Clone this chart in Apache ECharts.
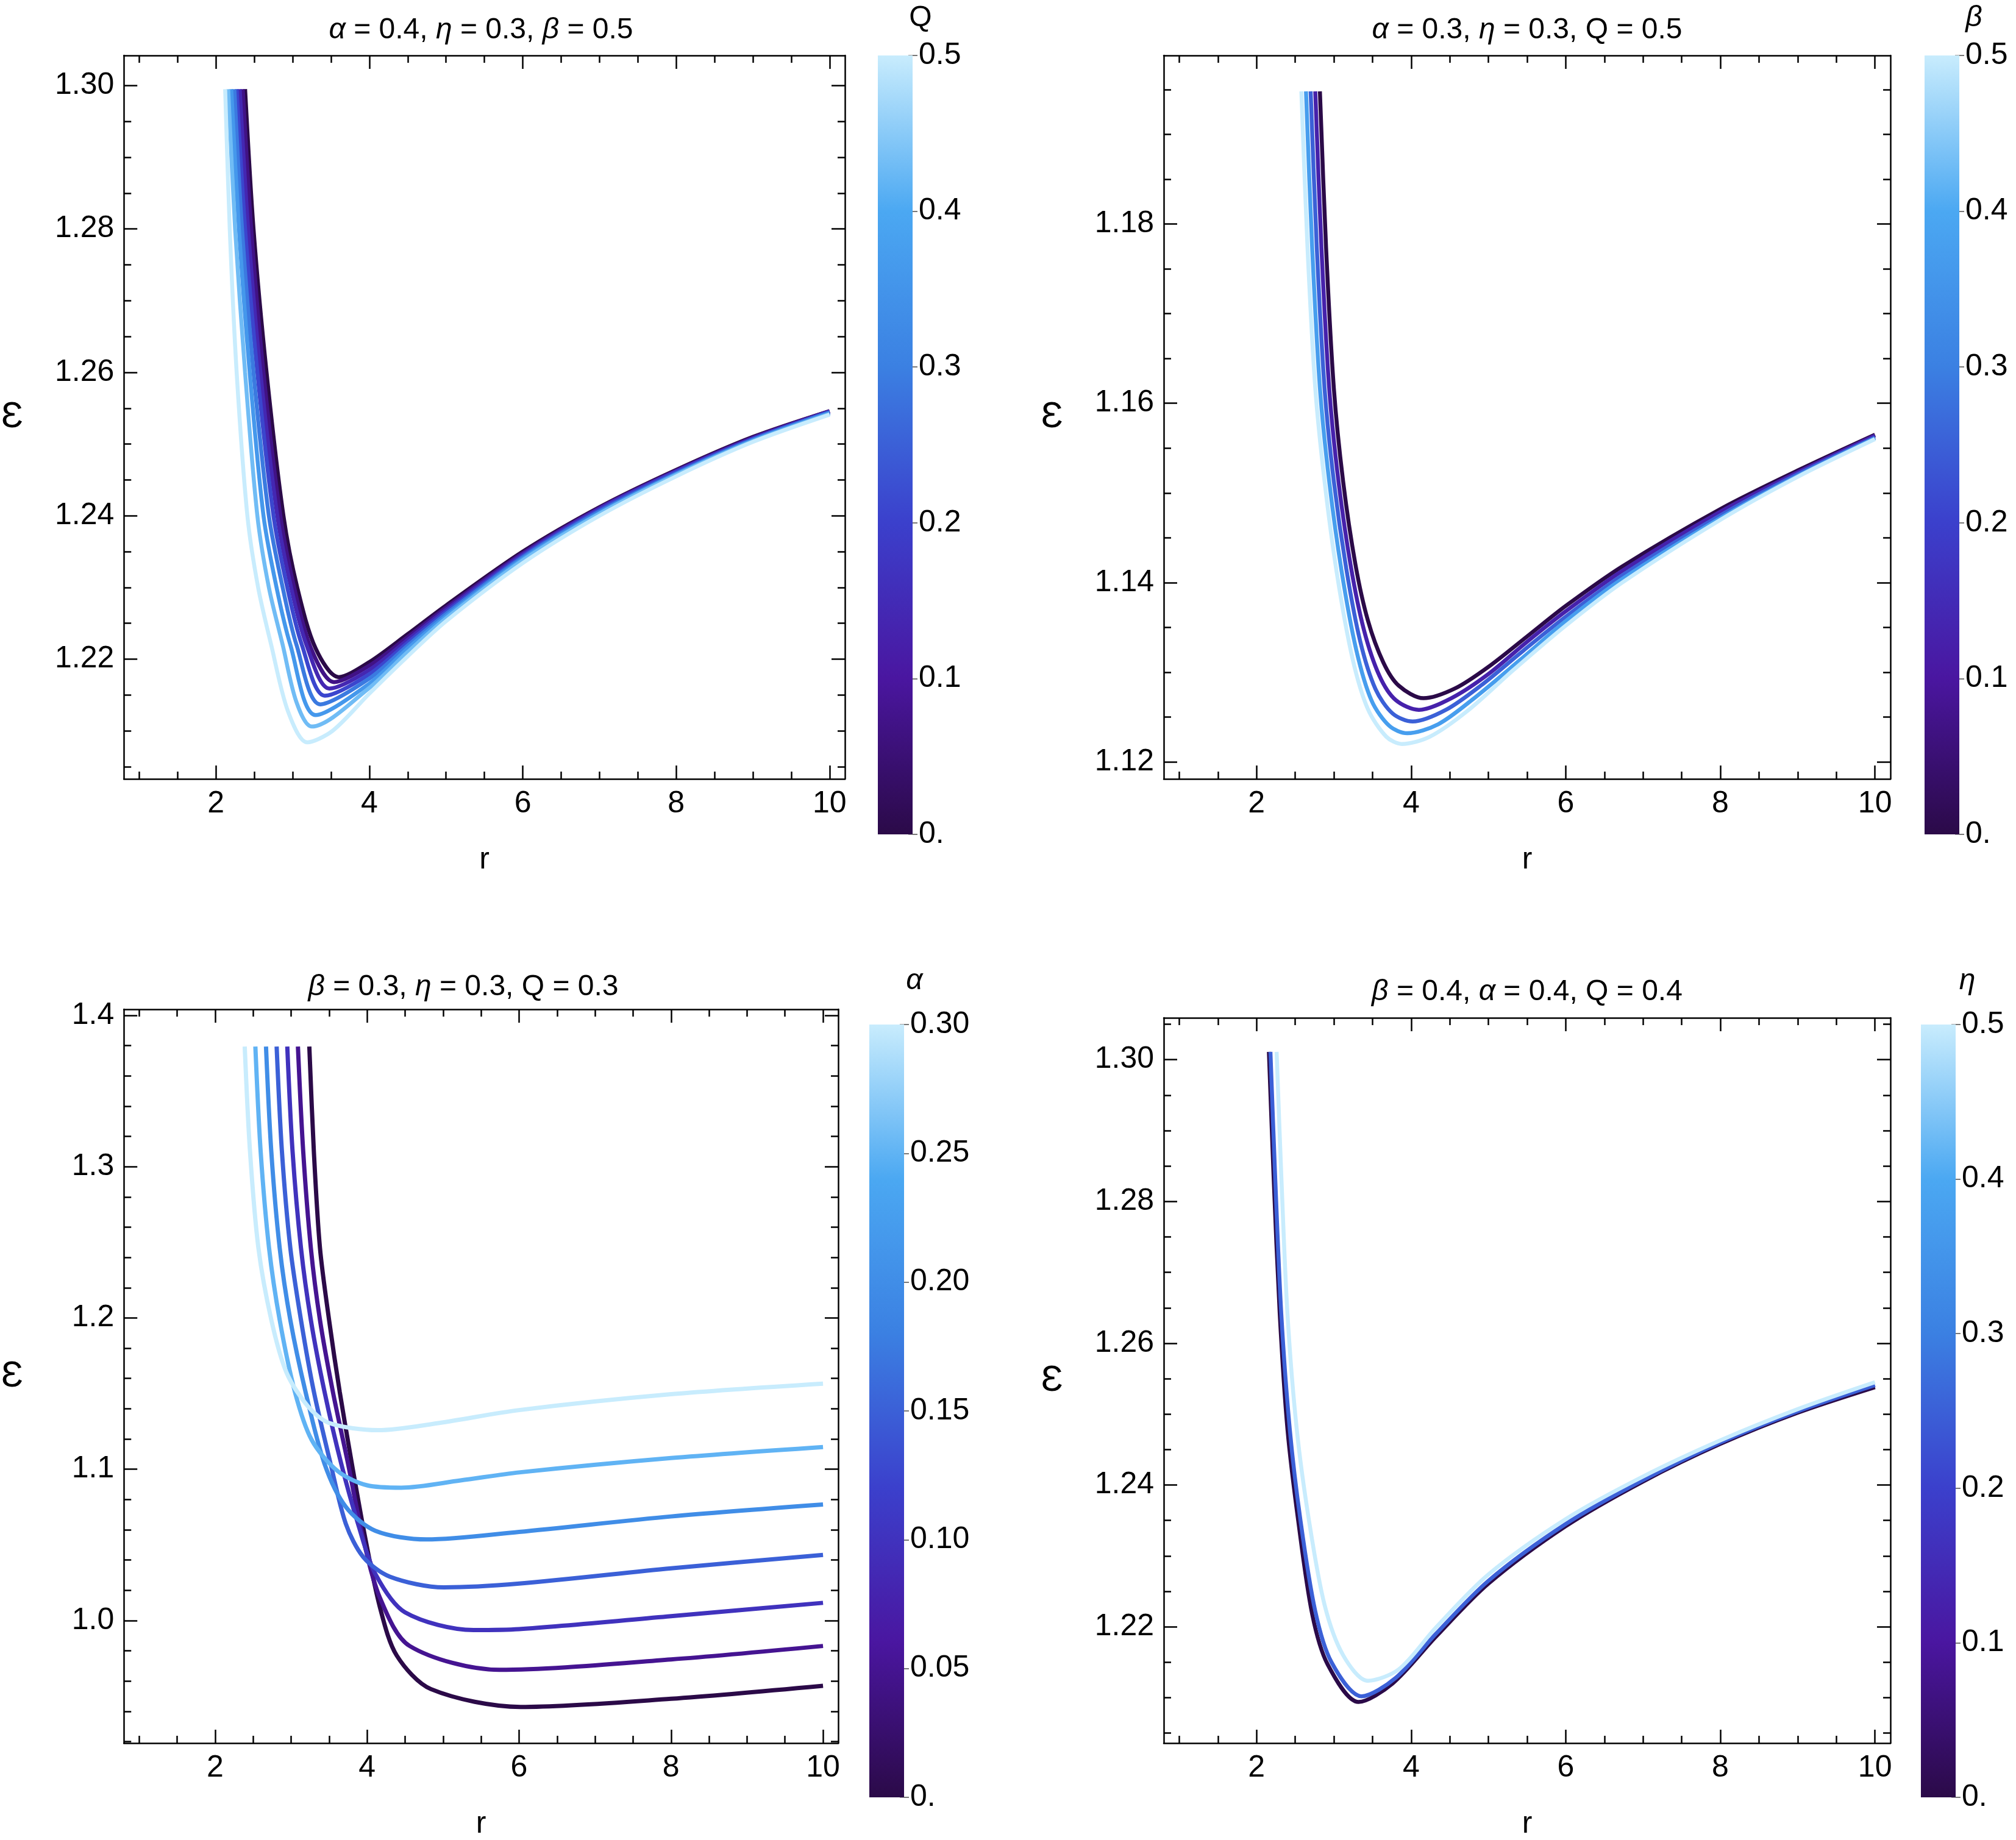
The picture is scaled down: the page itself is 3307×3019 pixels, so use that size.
<!DOCTYPE html>
<html>
<head>
<meta charset="utf-8">
<script src="https://cdn.jsdelivr.net/npm/echarts@6/dist/echarts.min.js"></script>
<style>html,body{margin:0;padding:0;background:#fff}#chart{width:3307px;height:3019px}</style>
</head>
<body>
<div id="chart"></div>
<script>
// panel 1: alpha=0.4, eta=0.3, beta=0.5, Q from 0 to 0.5
const p1Params = [0, 0.07, 0.14, 0.21, 0.29, 0.36, 0.43, 0.5]
const p1Curves = [
  [[2.38,1.2995],[2.49,1.28],[2.66,1.26],[2.88,1.24],[3.06,1.23],[3.30,1.2215],[3.60,1.2175],[4.0,1.2196],[4.5,1.2235],[5,1.2275],[6,1.2350],[7,1.2412],[8,1.2464],[9,1.2510],[10,1.2546]],
  [[2.35,1.2995],[2.46,1.28],[2.62,1.26],[2.84,1.24],[3.02,1.23],[3.24,1.2215],[3.54,1.2168],[4.0,1.2191],[4.5,1.2231],[5,1.2272],[6,1.2348],[7,1.2411],[8,1.2463],[9,1.2509],[10,1.2546]],
  [[2.31,1.2995],[2.42,1.28],[2.58,1.26],[2.80,1.24],[2.98,1.23],[3.18,1.222],[3.48,1.2159],[4.0,1.2185],[4.5,1.2227],[5,1.2269],[6,1.2346],[7,1.2410],[8,1.2462],[9,1.2508],[10,1.2545]],
  [[2.27,1.2995],[2.38,1.28],[2.54,1.26],[2.75,1.24],[2.93,1.23],[3.12,1.222],[3.42,1.2149],[4.0,1.2179],[4.5,1.2223],[5,1.2266],[6,1.2344],[7,1.2408],[8,1.2461],[9,1.2507],[10,1.2545]],
  [[2.24,1.2995],[2.34,1.28],[2.49,1.26],[2.69,1.24],[2.87,1.23],[3.05,1.222],[3.36,1.2137],[4.0,1.2173],[4.5,1.2219],[5,1.2263],[6,1.2342],[7,1.2406],[8,1.2459],[9,1.2506],[10,1.2544]],
  [[2.20,1.2995],[2.30,1.28],[2.44,1.26],[2.62,1.24],[2.79,1.23],[2.97,1.222],[3.30,1.2122],[4.0,1.2166],[4.5,1.2215],[5,1.2260],[6,1.2340],[7,1.2404],[8,1.2458],[9,1.2505],[10,1.2543]],
  [[2.16,1.2995],[2.25,1.28],[2.38,1.26],[2.54,1.24],[2.69,1.23],[2.87,1.222],[3.05,1.2140],[3.25,1.2106],[4.0,1.2160],[4.5,1.2210],[5,1.2257],[6,1.2338],[7,1.2403],[8,1.2457],[9,1.2504],[10,1.2542]],
  [[2.12,1.2995],[2.18,1.28],[2.27,1.26],[2.41,1.24],[2.55,1.23],[2.72,1.222],[2.94,1.2127],[3.19,1.2084],[3.52,1.2100],[4.0,1.2152],[4.5,1.2204],[5,1.2253],[6,1.2334],[7,1.2400],[8,1.2455],[9,1.2503],[10,1.2541]]
]
// panel 2: alpha=0.3, eta=0.3, Q=0.5, beta from 0 to 0.5
const p2Params = [0, 0.125, 0.25, 0.375, 0.5]
const p2Curves = [
  [[2.82,1.1948],[2.90,1.1773],[3.0,1.1617],[3.12,1.1513],[3.28,1.1420],[3.44,1.1358],[3.64,1.1311],[3.84,1.1285],[4.16,1.1271],[4.57,1.1282],[5,1.1306],[5.53,1.1342],[6,1.1374],[6.73,1.1418],[8,1.1482],[9,1.1525],[10,1.1565]],
  [[2.76,1.1948],[2.84,1.1773],[2.94,1.1617],[3.06,1.1513],[3.22,1.1418],[3.39,1.1347],[3.59,1.1296],[3.80,1.1269],[4.10,1.1258],[4.52,1.1271],[5,1.1298],[5.50,1.1334],[6,1.1368],[6.73,1.1413],[8,1.1479],[9,1.1523],[10,1.1564]],
  [[2.70,1.1948],[2.78,1.1773],[2.88,1.1617],[3.00,1.1513],[3.16,1.1416],[3.34,1.1335],[3.54,1.1281],[3.76,1.1254],[4.02,1.1245],[4.45,1.1258],[4.9,1.1285],[5.45,1.1324],[6,1.1362],[6.73,1.1408],[8,1.1475],[9,1.1521],[10,1.1562]],
  [[2.64,1.1948],[2.72,1.1773],[2.82,1.1617],[2.94,1.1513],[3.10,1.1413],[3.29,1.1325],[3.49,1.1268],[3.72,1.1240],[3.95,1.1232],[4.35,1.1242],[4.8,1.1270],[5.4,1.1313],[6,1.1357],[6.73,1.1404],[8,1.1472],[9,1.1519],[10,1.1561]],
  [[2.58,1.1948],[2.66,1.1773],[2.76,1.1617],[2.88,1.1513],[3.04,1.1410],[3.24,1.1316],[3.44,1.1259],[3.68,1.1228],[3.88,1.1220],[4.24,1.1228],[4.73,1.1257],[5.33,1.1303],[6,1.1352],[6.73,1.1400],[8,1.1470],[9,1.1518],[10,1.1560]]
]
// panel 3: beta=0.3, eta=0.3, Q=0.3, alpha from 0 to 0.3
const p3Params = [0, 0.05, 0.1, 0.15, 0.2, 0.25, 0.3]
const p3Curves = [
  [[3.24,1.3794],[3.30,1.3097],[3.38,1.2463],[3.50,1.1987],[3.64,1.1512],[3.80,1.1036],[3.97,1.0561],[4.17,1.0086],[4.39,0.9769],[4.84,0.9547],[6.02,0.9429],[8,0.9483],[10,0.9569]],
  [[3.09,1.3794],[3.16,1.3097],[3.26,1.2463],[3.38,1.1987],[3.55,1.1512],[3.75,1.1036],[3.94,1.0561],[4.17,1.0149],[4.56,0.9832],[5.74,0.9674],[8,0.9743],[10,0.9832]],
  [[2.95,1.3794],[3.02,1.3097],[3.13,1.2463],[3.26,1.1987],[3.44,1.1512],[3.66,1.1036],[3.89,1.0624],[4.11,1.0307],[4.50,1.0054],[5.40,0.9937],[6,0.9943],[8,1.0029],[10,1.0117]],
  [[2.81,1.3794],[2.88,1.3097],[2.99,1.2463],[3.13,1.1987],[3.30,1.1512],[3.52,1.1036],[3.72,1.0640],[3.95,1.0420],[4.30,1.0290],[5.01,1.0219],[6,1.0244],[8,1.0345],[10,1.0434]],
  [[2.67,1.3794],[2.74,1.3097],[2.85,1.2463],[2.99,1.1987],[3.19,1.1512],[3.44,1.1036],[3.72,1.0751],[4.11,1.0593],[4.78,1.0536],[6,1.0586],[8,1.0688],[10,1.0767]],
  [[2.53,1.3794],[2.60,1.3097],[2.71,1.2463],[2.85,1.1987],[3.05,1.1512],[3.27,1.1195],[3.61,1.0989],[4.0,1.0894],[4.45,1.0878],[5.23,1.0926],[6,1.0979],[8,1.1074],[10,1.1147]],
  [[2.39,1.3794],[2.46,1.3097],[2.57,1.2463],[2.74,1.1987],[2.94,1.1639],[3.22,1.1417],[3.50,1.1306],[4.14,1.1258],[4.95,1.1306],[6,1.1391],[8,1.1496],[10,1.1566]]
]
// panel 4: beta=0.4, alpha=0.4, Q=0.4, eta from 0 to 0.5
const p4Params = [0, 0.25, 0.5]
const p4Curves = [
  [[2.16,1.3011],[2.22,1.2838],[2.30,1.2642],[2.40,1.2479],[2.54,1.2349],[2.72,1.2218],[2.92,1.2147],[3.32,1.2094],[3.76,1.2120],[4.32,1.2186],[5,1.2261],[6,1.2342],[7,1.2405],[8,1.2458],[9,1.2502],[10,1.2538]],
  [[2.18,1.3011],[2.24,1.2838],[2.32,1.2642],[2.43,1.2479],[2.57,1.2349],[2.76,1.2222],[2.97,1.2150],[3.36,1.2102],[3.80,1.2128],[4.32,1.2190],[5,1.2265],[6,1.2345],[7,1.2407],[8,1.2460],[9,1.2504],[10,1.2541]],
  [[2.26,1.3011],[2.32,1.2838],[2.40,1.2642],[2.52,1.2479],[2.68,1.2349],[2.88,1.2231],[3.12,1.2160],[3.44,1.2124],[3.84,1.2140],[4.32,1.2199],[5,1.2274],[6,1.2352],[7,1.2412],[8,1.2463],[9,1.2507],[10,1.2545]]
]
// tick labels
const xTicks = [2, 4, 6, 8, 10]
const y1Ticks = [1.22, 1.24, 1.26, 1.28, 1.30]
const y2Ticks = [1.12, 1.14, 1.16, 1.18]
const y3Ticks = [1.0, 1.1, 1.2, 1.3, 1.4]
const y4Ticks = [1.22, 1.24, 1.26, 1.28, 1.30]
const cb1Ticks = [0, 0.1, 0.2, 0.3, 0.4, 0.5]
const cb3Ticks = [0, 0.05, 0.10, 0.15, 0.20, 0.25, 0.30]

const FONT = 'Liberation Sans, Arial, sans-serif'
const stops = [[0,'#2b0a48'],[0.2,'#4a16a0'],[0.4,'#3b40cc'],[0.6,'#3b80e2'],[0.8,'#4ba8f2'],[1,'#c8ecfd']]

function hex(c) { return [1,3,5].map(i => parseInt(c.substr(i,2),16)) }
function palette(t) {
  for (let i = 1; i < stops.length; i++) {
    if (t <= stops[i][0]) {
      const a = hex(stops[i-1][1]), b = hex(stops[i][1])
      const f = (t - stops[i-1][0]) / (stops[i][0] - stops[i-1][0])
      return 'rgb(' + a.map((v, k) => Math.round(v + (b[k] - v) * f)).join(',') + ')'
    }
  }
  return stops[stops.length-1][1]
}
function minorTicks(lo, hi, step) {
  const out = []
  for (let v = Math.ceil(lo / step - 1e-9) * step; v <= hi + 1e-9; v += step) out.push(+v.toFixed(6))
  return out
}

const grids = [], xAxes = [], yAxes = [], series = [], graphics = []

function axisPair(list, dim, gi, min, max, major, minor, fmt, name) {
  const idx = list.length
  const positions = dim === 'x' ? ['bottom', 'top'] : ['left', 'right']
  positions.forEach((pos, pi) => {
    [true, false].forEach(isMajor => {
      const labelled = isMajor && pi === 0
      list.push({
        type: 'value', gridIndex: gi, position: pos, min: min, max: max,
        splitLine: { show: false },
        axisLine: { show: isMajor, lineStyle: { color: '#000', width: 2.5 } },
        axisTick: { show: true, inside: true, length: isMajor ? 22 : 12,
          customValues: isMajor ? major : minor, lineStyle: { color: '#000', width: 2.5 } },
        axisLabel: { show: labelled, customValues: major, formatter: fmt,
          fontSize: 50, color: '#000', fontFamily: FONT, margin: 16 },
        name: labelled ? name : '', nameLocation: 'middle',
        nameGap: dim === 'x' ? 108 : 165, nameRotate: 0,
        nameTextStyle: { fontSize: dim === 'x' ? 50 : 60, color: '#000', fontFamily: FONT }
      })
    })
  })
  return idx
}

function addPanel(p) {
  const gi = grids.length
  grids.push({ left: p.box[0], top: p.box[1], width: p.box[2], height: p.box[3], containLabel: false })
  const xi = axisPair(xAxes, 'x', gi, p.xr[0], p.xr[1], xTicks, minorTicks(p.xr[0], p.xr[1], 0.5), v => String(v), 'r')
  const yi = axisPair(yAxes, 'y', gi, p.yr[0], p.yr[1], p.yTicks, minorTicks(p.yr[0], p.yr[1], p.yMinor), p.yFmt, '\u0190')
  p.curves.forEach((c, i) => {
    series.push({
      type: 'line', xAxisIndex: xi, yAxisIndex: yi, data: c, showSymbol: false,
      smooth: 0.3, clip: true, silent: true,
      lineStyle: { color: palette(p.params[i] / p.pmax), width: p.lw }
    })
  })
  // colorbar
  const ci = grids.length
  grids.push({ left: p.cb[0], top: p.cb[1], width: p.cb[2], height: p.cb[3] })
  const cxi = xAxes.length
  xAxes.push({ type: 'category', gridIndex: ci, data: ['c'], show: false })
  const cyi = yAxes.length
  yAxes.push({
    type: 'value', gridIndex: ci, position: 'right', min: 0, max: p.pmax,
    splitLine: { show: false }, axisLine: { show: false },
    axisTick: { show: true, length: 8, customValues: p.cbTicks, lineStyle: { color: '#777', width: 2 } },
    axisLabel: { customValues: p.cbTicks, formatter: v => v === 0 ? '0.' : v.toFixed(p.cbDec),
      fontSize: 50, color: '#000', fontFamily: FONT, margin: 10 }
  })
  series.push({
    type: 'bar', xAxisIndex: cxi, yAxisIndex: cyi, data: [p.pmax], barWidth: '100%', silent: true,
    itemStyle: { color: { type: 'linear', x: 0, y: 1, x2: 0, y2: 0,
      colorStops: stops.map(s => ({ offset: s[0], color: s[1] })) } }
  })
  // inner gray dashes on colorbar
  yAxes.push({
    type: 'value', gridIndex: ci, position: 'right', min: 0, max: p.pmax, splitLine: { show: false },
    axisLine: { show: false }, axisLabel: { show: false },
    axisTick: { show: true, inside: true, length: 7, customValues: minorTicks(0, p.pmax, p.cbMinor),
      lineStyle: { color: '#888', width: 1.5 } }
  })
  graphics.push({
    type: 'text', x: p.title[0], y: p.title[1], z: 10,
    style: { text: p.title[2], align: 'center', verticalAlign: 'middle', fill: '#000',
      font: '48px ' + FONT, rich: { i: { fontStyle: 'italic', fontSize: 48, fontFamily: FONT } } }
  })
  graphics.push({
    type: 'text', x: p.cbName[0], y: p.cbName[1], z: 10,
    style: { text: p.cbName[2], align: 'center', verticalAlign: 'middle', fill: '#000',
      font: (p.cbName[3] ? 'italic ' : '') + '48px ' + FONT }
  })
}

addPanel({ box: [192, 91, 1194, 1187], xr: [0.8, 10.2], yr: [1.2033, 1.3042], yTicks: y1Ticks, yMinor: 0.005,
  yFmt: v => v.toFixed(2), curves: p1Curves, params: p1Params, pmax: 0.5, lw: 6.5,
  cb: [1440, 91, 57, 1278], cbTicks: cb1Ticks, cbDec: 1, cbMinor: 0.02,
  title: [789, 50, '{i|\u03b1} = 0.4, {i|\u03b7} = 0.3, {i|\u03b2} = 0.5'], cbName: [1510, 30, 'Q', false] })
addPanel({ box: [1909, 91, 1192, 1187], xr: [0.8, 10.2], yr: [1.1181, 1.1988], yTicks: y2Ticks, yMinor: 0.005,
  yFmt: v => v.toFixed(2), curves: p2Curves, params: p2Params, pmax: 0.5, lw: 6.5,
  cb: [3157, 91, 57, 1278], cbTicks: cb1Ticks, cbDec: 1, cbMinor: 0.02,
  title: [2505, 50, '{i|\u03b1} = 0.3, {i|\u03b7} = 0.3, Q = 0.5'], cbName: [3238, 30, '\u03b2', true] })
addPanel({ box: [148, 1656, 1227, 1215], xr: [0.8, 10.2], yr: [0.919, 1.404], yTicks: y3Ticks, yMinor: 0.02,
  yFmt: v => v.toFixed(1), curves: p3Curves, params: p3Params, pmax: 0.3, lw: 7,
  cb: [1426, 1681, 57, 1268], cbTicks: cb3Ticks, cbDec: 2, cbMinor: 0.01,
  title: [760, 1620, '{i|\u03b2} = 0.3, {i|\u03b7} = 0.3, Q = 0.3'], cbName: [1500, 1610, '\u03b1', true] })
addPanel({ box: [1909, 1670, 1192, 1200], xr: [0.8, 10.2], yr: [1.2036, 1.3059], yTicks: y4Ticks, yMinor: 0.005,
  yFmt: v => v.toFixed(2), curves: p4Curves, params: p4Params, pmax: 0.5, lw: 6.5,
  cb: [3151, 1681, 57, 1268], cbTicks: cb1Ticks, cbDec: 1, cbMinor: 0.02,
  title: [2505, 1628, '{i|\u03b2} = 0.4, {i|\u03b1} = 0.4, Q = 0.4'], cbName: [3227, 1610, '\u03b7', true] })

const chart = echarts.init(document.getElementById('chart'))
chart.setOption({
  backgroundColor: '#fff',
  animation: false,
  grid: grids,
  xAxis: xAxes,
  yAxis: yAxes,
  series: series,
  graphic: graphics
})
</script>
</body>
</html>
